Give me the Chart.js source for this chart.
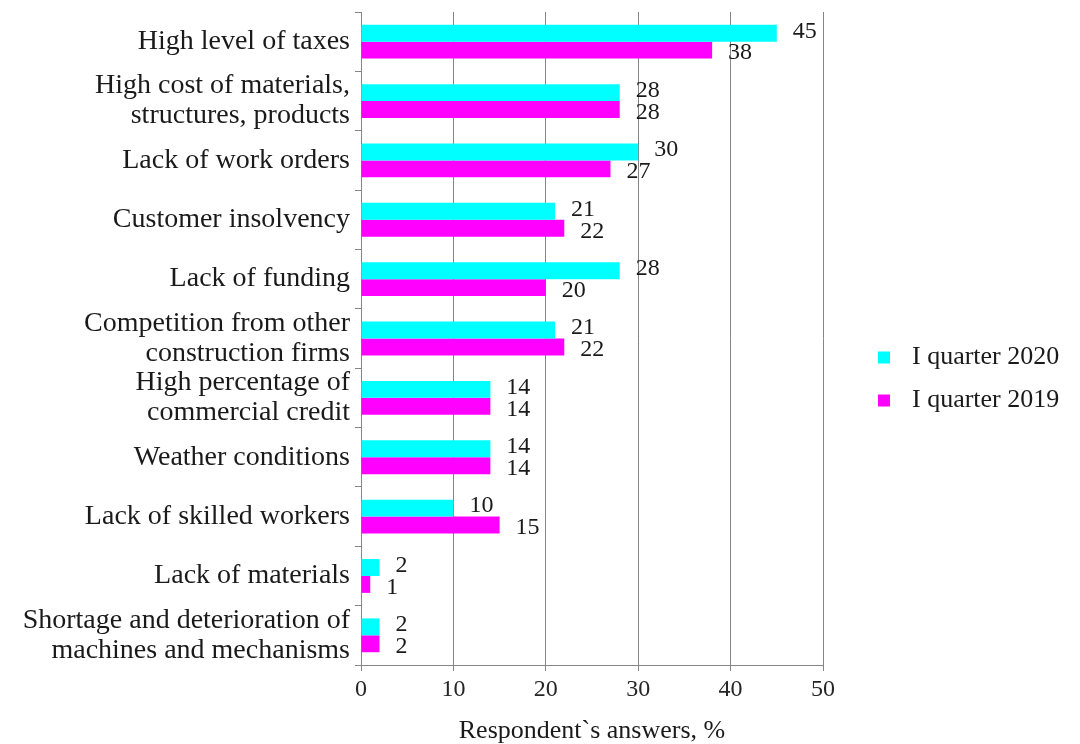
<!DOCTYPE html>
<html>
<head>
<meta charset="utf-8">
<title>Construction barriers</title>
<script src="https://cdn.jsdelivr.net/npm/chart.js@4.4.1/dist/chart.umd.min.js"></script>
<style>
  html, body { margin: 0; padding: 0; background: #fff; }
  #wrap { width: 1080px; height: 744px; }
</style>
</head>
<body>
<div id="wrap"><canvas id="chart" width="1080" height="744"></canvas></div>
<script>
// factors limiting construction activity, % of respondents
const factors = [
  'High level of taxes',
  ['High cost of materials,', 'structures, products'],
  'Lack of work orders',
  'Customer insolvency',
  'Lack of funding',
  ['Competition from other', 'construction firms'],
  ['High percentage of', 'commercial credit'],
  'Weather conditions',
  'Lack of skilled workers',
  'Lack of materials',
  ['Shortage and deterioration of', 'machines and mechanisms']
];
const q1_2020 = [45, 28, 30, 21, 28, 21, 14, 14, 10, 2, 2];
const q1_2019 = [38, 28, 27, 22, 20, 22, 14, 14, 15, 1, 2];
const xTicks = [0, 10, 20, 30, 40, 50];

const SERIF = '"Liberation Serif", "Times New Roman", serif';
const GRID = '#858585';

// numbers next to the end of every bar
const valueLabels = {
  id: 'valueLabels',
  afterDatasetsDraw(chart) {
    const ctx = chart.ctx;
    ctx.save();
    ctx.font = '24px ' + SERIF;
    ctx.fillStyle = '#1a1a1a';
    ctx.textAlign = 'left';
    ctx.textBaseline = 'middle';
    chart.data.datasets.forEach((ds, i) => {
      chart.getDatasetMeta(i).data.forEach((bar, j) => {
        const dy = i === 0 ? -2 : 3;
        ctx.fillText(ds.data[j], bar.x + 16, bar.y + dy);
      });
    });
    ctx.restore();
  }
};

// legend to the right of the plot
const sideLegend = {
  id: 'sideLegend',
  afterDraw(chart) {
    const ctx = chart.ctx;
    const area = chart.chartArea;
    const mid = (area.top + area.bottom) / 2;
    ctx.save();
    ctx.font = '26px ' + SERIF;
    ctx.textAlign = 'left';
    ctx.textBaseline = 'middle';
    chart.data.datasets.forEach((ds, i) => {
      const y = mid + 19 + i * 43;
      ctx.fillStyle = ds.backgroundColor;
      ctx.fillRect(area.right + 55, y - 6, 12, 12);
      ctx.fillStyle = '#1a1a1a';
      ctx.fillText(ds.label, area.right + 89, y);
    });
    ctx.restore();
  }
};

new Chart(document.getElementById('chart'), {
  type: 'bar',
  data: {
    labels: factors,
    datasets: [
      {
        label: 'I quarter 2020',
        data: q1_2020,
        backgroundColor: '#00ffff',
        categoryPercentage: 0.57,
        barPercentage: 1.0
      },
      {
        label: 'I quarter 2019',
        data: q1_2019,
        backgroundColor: '#ff00ff',
        categoryPercentage: 0.57,
        barPercentage: 1.0
      }
    ]
  },
  options: {
    indexAxis: 'y',
    responsive: false,
    animation: false,
    layout: {
      padding: { top: 12, right: 257, bottom: 0, left: 0 }
    },
    plugins: {
      legend: { display: false },
      tooltip: { enabled: false }
    },
    scales: {
      x: {
        min: 0,
        max: 50,
        afterBuildTicks(scale) {
          scale.ticks = xTicks.map(v => ({ value: v }));
        },
        afterFit(scale) {
          scale.height = 79;
        },
        border: { color: GRID, width: 1 },
        grid: {
          color: GRID,
          lineWidth: 1,
          drawTicks: true,
          tickLength: 6
        },
        ticks: {
          color: '#262626',
          padding: 4,
          font: { family: SERIF, size: 24 }
        },
        title: {
          display: true,
          text: 'Respondent`s answers, %',
          color: '#1a1a1a',
          font: { family: SERIF, size: 26, lineHeight: 1 },
          padding: { top: 0, bottom: 0 }
        }
      },
      y: {
        afterFit(scale) {
          // labels may overhang the plot; keep the plot at full height
          scale.width = 361;
          scale.paddingTop = 0;
          scale.paddingBottom = 0;
        },
        border: { color: GRID, width: 1 },
        grid: {
          offset: true,
          drawOnChartArea: false,
          drawTicks: true,
          tickLength: 6,
          color: GRID
        },
        ticks: {
          color: '#1a1a1a',
          padding: 5,
          autoSkip: false,
          font: { family: SERIF, size: 28, lineHeight: 1.07 }
        }
      }
    }
  },
  plugins: [valueLabels, sideLegend]
});
</script>
</body>
</html>
